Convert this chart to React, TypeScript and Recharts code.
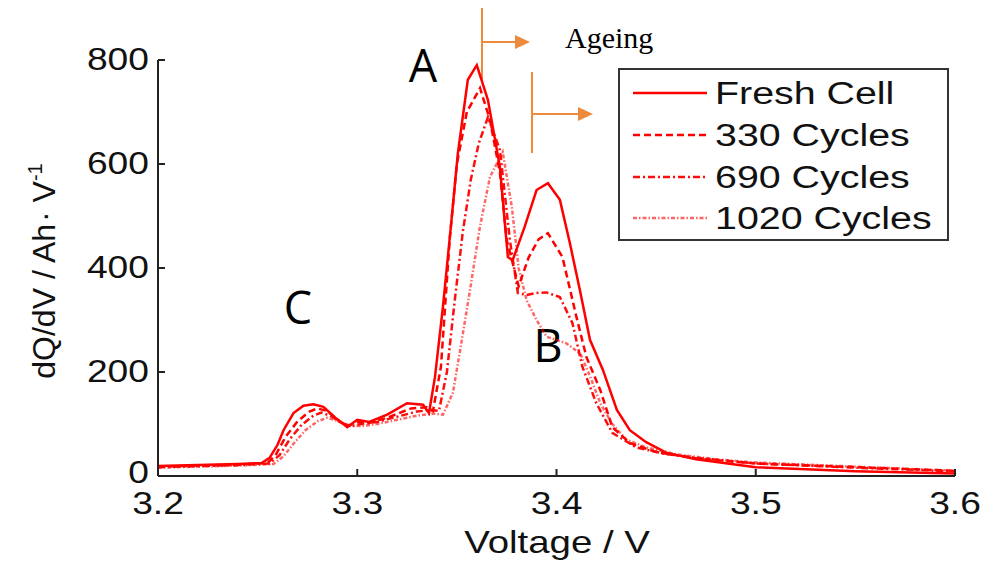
import React from "react";
import { LineChart, Line, XAxis, YAxis, Customized } from "recharts";

// Incremental capacity (dQ/dV) curves of an LFP cell at different ageing stages
const freshV = [3.2, 3.22, 3.24, 3.252, 3.256, 3.26, 3.263, 3.268, 3.273, 3.278, 3.283, 3.289, 3.295, 3.3, 3.306, 3.315, 3.325, 3.333, 3.336, 3.339, 3.343, 3.347, 3.3505, 3.3555, 3.36, 3.3656, 3.3716, 3.3756, 3.378, 3.384, 3.39, 3.3957, 3.4017, 3.4067, 3.4117, 3.4168, 3.4233, 3.4303, 3.4368, 3.445, 3.455, 3.47, 3.5, 3.55, 3.6];
const freshQ = [19, 21, 23, 25, 35, 60, 88, 121, 135, 138, 133, 112, 94, 108, 104, 118, 140, 137, 121, 190, 325, 480, 621, 762, 790, 723, 594, 421, 415, 479, 550, 563, 531, 448, 358, 262, 204, 127, 88, 65, 45, 32, 17, 9, 5];

const c330V = [3.2, 3.24, 3.255, 3.259, 3.264, 3.27, 3.276, 3.28, 3.285, 3.29, 3.295, 3.3, 3.306, 3.315, 3.327, 3.335, 3.338, 3.342, 3.3465, 3.35, 3.355, 3.3616, 3.3666, 3.3716, 3.375, 3.381, 3.386, 3.391, 3.3957, 3.403, 3.41, 3.415, 3.422, 3.428, 3.437, 3.45, 3.47, 3.5, 3.55, 3.6];
const c330Q = [18, 22, 25, 40, 75, 105, 124, 130, 125, 108, 96, 104, 102, 112, 130, 132, 125, 210, 460, 600, 700, 746, 685, 583, 454, 365, 420, 455, 467, 421, 306, 229, 165, 94, 63, 46, 34, 24, 17, 10];

const c690V = [3.2, 3.24, 3.256, 3.261, 3.266, 3.272, 3.278, 3.282, 3.287, 3.292, 3.297, 3.302, 3.31, 3.32, 3.33, 3.337, 3.341, 3.345, 3.349, 3.353, 3.357, 3.361, 3.3656, 3.3716, 3.3766, 3.3806, 3.385, 3.39, 3.395, 3.4017, 3.408, 3.413, 3.42, 3.428, 3.44, 3.455, 3.47, 3.5, 3.55, 3.6];
const c690Q = [17, 21, 24, 40, 70, 98, 116, 122, 115, 102, 96, 100, 104, 114, 124, 127, 125, 200, 340, 470, 570, 640, 690, 627, 454, 352, 348, 352, 353, 344, 294, 210, 140, 83, 55, 42, 35, 24, 16, 9];

const c1020V = [3.2, 3.24, 3.258, 3.263, 3.268, 3.274, 3.28, 3.285, 3.29, 3.296, 3.302, 3.31, 3.32, 3.33, 3.338, 3.343, 3.348, 3.352, 3.3566, 3.3616, 3.3666, 3.373, 3.3776, 3.381, 3.385, 3.39, 3.395, 3.405, 3.412, 3.417, 3.422, 3.428, 3.435, 3.445, 3.46, 3.48, 3.5, 3.55, 3.6];
const c1020Q = [16, 20, 23, 38, 62, 88, 105, 112, 106, 96, 96, 100, 108, 116, 120, 118, 160, 250, 358, 480, 575, 623, 517, 400, 338, 300, 268, 255, 235, 190, 140, 100, 70, 55, 42, 32, 26, 18, 10];

const xTicks = [3.2, 3.3, 3.4, 3.5, 3.6];
const yTicks = [0, 200, 400, 600, 800];

const seriesNames = ["Fresh Cell", "330 Cycles", "690 Cycles", "1020 Cycles"];

const zip = (v: number[], q: number[]) => v.map((x, i) => ({ v: x, q: q[i] }));

const RED = "#ff0000";
const styles = [
  { dash: undefined as string | undefined, opacity: 1 },
  { dash: "7 4", opacity: 1 },
  { dash: "7 3 2 3", opacity: 0.95 },
  { dash: "4 2 1.5 2", opacity: 0.6 },
];

const series = [
  zip(freshV, freshQ),
  zip(c330V, c330Q),
  zip(c690V, c690Q),
  zip(c1020V, c1020Q),
];

const FONT = "'Liberation Sans', Arial, sans-serif";
const AXIS = "#222";
const ORANGE = "#ee8a3c";

const XTick = (props: any) => {
  const { x, y, payload } = props;
  return (
    <g>
      <line x1={x} y1={y} x2={x} y2={y - 7} stroke={AXIS} strokeWidth={2} />
      <text
        transform={`translate(${x},${y + 38}) scale(1.2,1)`}
        textAnchor="middle"
        fontSize={31}
        fontFamily={FONT}
        fill="#111"
      >
        {Number(payload.value).toFixed(1)}
      </text>
    </g>
  );
};

const YTick = (props: any) => {
  const { x, y, payload } = props;
  const isZero = payload.value === 0;
  return (
    <g>
      {!isZero && (
        <line x1={x} y1={y} x2={x + 7} y2={y} stroke={AXIS} strokeWidth={2} />
      )}
      <text
        transform={`translate(${x - 9},${y + (isZero ? 7 : 10)}) scale(1.2,1)`}
        textAnchor="end"
        fontSize={31}
        fontFamily={FONT}
        fill="#111"
      >
        {payload.value}
      </text>
    </g>
  );
};

const Overlay = () => {
  const rows = [93, 135, 177, 218];
  return (
    <g>
      {/* axis titles */}
      <text
        transform="translate(55,271) rotate(-90)"
        textAnchor="middle"
        fontSize={32}
        fontFamily={FONT}
        fill="#111"
      >
        dQ/dV / Ah<tspan dx={2}>·</tspan> V<tspan dy={-13} fontSize={20}>-1</tspan>
      </text>
      <text
        transform="translate(557,553) scale(1.2,1)"
        textAnchor="middle"
        fontSize={32}
        fontFamily={FONT}
        fill="#111"
      >
        Voltage / V
      </text>

      {/* legend */}
      <rect x={619} y={69} width={329} height={171} fill="#fff" stroke="#333" strokeWidth={2} />
      {seriesNames.map((name, i) => (
        <g key={name}>
          <line
            x1={633}
            x2={707}
            y1={rows[i]}
            y2={rows[i]}
            stroke={RED}
            strokeWidth={2.5}
            strokeDasharray={styles[i].dash}
            opacity={styles[i].opacity}
          />
          <text
            transform={`translate(715,${rows[i] + 11}) scale(1.27,1)`}
            fontSize={31}
            fontFamily={FONT}
            fill="#111"
          >
            {name}
          </text>
        </g>
      ))}

      {/* peak labels */}
      <text x={423} y={82} textAnchor="middle" fontSize={45} fontFamily="'Open Sans', sans-serif" fill="#000">A</text>
      <text x={548} y={362} textAnchor="middle" fontSize={45} fontFamily="'Open Sans', sans-serif" fill="#000">B</text>
      <text x={298} y={324} textAnchor="middle" fontSize={45} fontFamily="'Open Sans', sans-serif" fill="#000">C</text>

      {/* ageing arrows */}
      <text x={565} y={48} fontSize={30} fontFamily="'Liberation Serif', 'Times New Roman', serif" fill="#000">Ageing</text>
      <line x1={482} y1={8} x2={482} y2={82} stroke={ORANGE} strokeWidth={2} />
      <line x1={482} y1={42} x2={516} y2={42} stroke={ORANGE} strokeWidth={2} />
      <polygon points="515,35 530,42 515,49" fill={ORANGE} />
      <line x1={532} y1={72} x2={532} y2={153} stroke={ORANGE} strokeWidth={2} />
      <line x1={532} y1={114} x2={579} y2={114} stroke={ORANGE} strokeWidth={2} />
      <polygon points="578,107 593,114 578,121" fill={ORANGE} />
    </g>
  );
};

export default function App() {
  return (
    <div style={{ position: "absolute", left: 0, top: 0, background: "#fff" }}>
      <LineChart
        width={989}
        height={563}
        margin={{ top: 60, right: 34, bottom: 27, left: 58 }}
      >
        <XAxis
          dataKey="v"
          type="number"
          domain={[3.2, 3.6]}
          ticks={xTicks}
          allowDataOverflow
          height={60}
          tickSize={0}
          tickMargin={0}
          tickLine={false}
          axisLine={{ stroke: AXIS, strokeWidth: 2 }}
          tick={<XTick />}
          interval={0}
        />
        <YAxis
          type="number"
          domain={[0, 800]}
          ticks={yTicks}
          allowDataOverflow
          width={100}
          tickSize={0}
          tickMargin={0}
          tickLine={false}
          axisLine={{ stroke: AXIS, strokeWidth: 2 }}
          tick={<YTick />}
          interval={0}
        />
        {series.map((d, i) => (
          <Line
            key={seriesNames[i]}
            data={d}
            dataKey="q"
            name={seriesNames[i]}
            type="linear"
            stroke={RED}
            strokeWidth={2.5}
            strokeDasharray={styles[i].dash}
            strokeOpacity={styles[i].opacity}
            dot={false}
            activeDot={false}
            isAnimationActive={false}
          />
        ))}
        <Customized component={Overlay} />
      </LineChart>
    </div>
  );
}
